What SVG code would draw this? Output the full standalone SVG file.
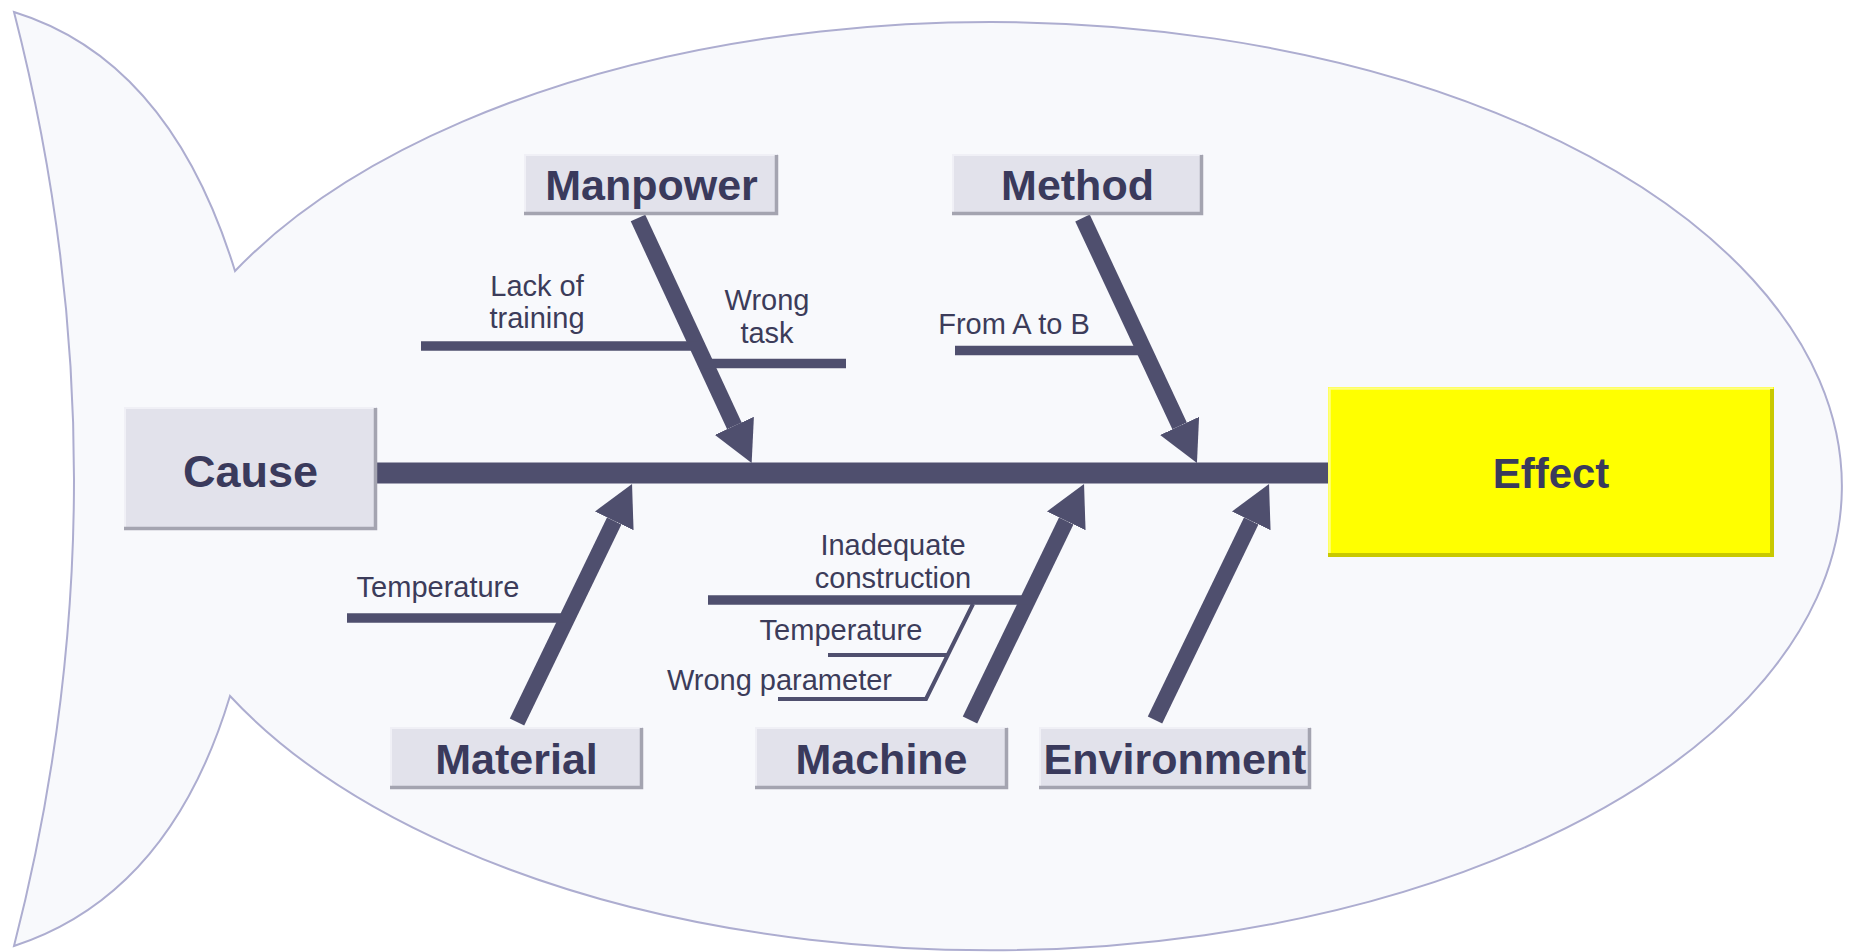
<svg xmlns="http://www.w3.org/2000/svg" width="1852" height="952" viewBox="0 0 1852 952">
<defs>
<style>
.fish{fill:#f8f9fc;stroke:#adadd0;stroke-width:2}
.box{fill:#e2e2eb}
.hi{fill:none;stroke:#f0f0f6;stroke-width:2}
.sh{fill:none;stroke:#a4a4b0;stroke-width:3.5}
.lbl{font-family:"Liberation Sans",Arial,sans-serif;font-weight:bold;fill:#3a3a5c;text-anchor:middle}
.sub{font-family:"Liberation Sans",Arial,sans-serif;font-size:29px;fill:#3c3c5a;text-anchor:middle}
.bone{stroke:#4f4f6e;stroke-width:16;fill:none}
.twig{stroke:#4f4f6e;stroke-width:9.5;fill:none}
.thin{stroke:#4f4f6e;stroke-width:4;fill:none}
</style>
<marker id="head" markerUnits="userSpaceOnUse" markerWidth="41" markerHeight="43" viewBox="0 0 41 43" refX="0" refY="21.5" orient="auto">
<path d="M0,0 L41,21.5 L0,43 Z" fill="#4f4f6e"/>
</marker>
</defs>
<rect width="1852" height="952" fill="#ffffff"/>
<path class="fish" d="M14,12 Q170,60 235,271 A852,464 0 1 1 230,696 Q170,895 14,946 Q134,479 14,12 Z"/>

<g id="connectors">
<rect x="376" y="462.5" width="953" height="21" fill="#4f4f6e"/>
<line class="bone" x1="638" y1="218" x2="734.4" y2="425.8" marker-end="url(#head)"/>
<line class="bone" x1="1082.5" y1="218" x2="1179.6" y2="425.9" marker-end="url(#head)"/>
<line class="bone" x1="517" y1="722" x2="614.2" y2="520.9" marker-end="url(#head)"/>
<line class="bone" x1="970" y1="720" x2="1066.2" y2="520.9" marker-end="url(#head)"/>
<line class="bone" x1="1155" y1="720" x2="1251.2" y2="520.9" marker-end="url(#head)"/>
<line class="twig" x1="421" y1="346" x2="697" y2="346"/>
<line class="twig" x1="705" y1="363.5" x2="846" y2="363.5"/>
<line class="twig" x1="955" y1="350.5" x2="1146" y2="350.5"/>
<line class="twig" x1="347" y1="618" x2="567" y2="618"/>
<line class="twig" x1="708" y1="600" x2="1028" y2="600"/>
<polyline class="thin" points="973,604 926,699 778,699"/>
<line class="thin" x1="828" y1="655" x2="949" y2="655"/>
</g>

<g id="sub-labels">
<text class="sub" x="537" y="296">Lack of</text>
<text class="sub" x="537" y="328">training</text>
<text class="sub" x="767" y="310">Wrong</text>
<text class="sub" x="767" y="343">task</text>
<text class="sub" x="1014" y="334">From A to B</text>
<text class="sub" x="438" y="597">Temperature</text>
<text class="sub" x="893" y="555">Inadequate</text>
<text class="sub" x="893" y="588">construction</text>
<text class="sub" x="841" y="640">Temperature</text>
<text class="sub" x="892" y="690" style="text-anchor:end">Wrong parameter</text>
</g>

<g id="cause">
<rect class="box" x="124" y="407" width="253" height="123"/>
<polyline class="hi" points="125,529 125,408 376,408"/>
<polyline class="sh" points="375.5,408 375.5,528.5 124,528.5"/>
<text class="lbl" x="250.5" y="487" font-size="45">Cause</text>
</g>

<g id="effect">
<rect x="1328" y="387" width="446" height="170" fill="#ffff00"/>
<polyline fill="none" stroke="#ffff80" stroke-width="2.5" points="1329.5,556 1329.5,388.5 1773,388.5"/>
<polyline fill="none" stroke="#c9c900" stroke-width="4" points="1772,389 1772,555 1328,555"/>
<text class="lbl" x="1551" y="488" font-size="42">Effect</text>
</g>

<g id="manpower">
<rect class="box" x="524" y="154" width="254" height="61"/>
<polyline class="hi" points="525,214 525,155 777,155"/>
<polyline class="sh" points="776.5,155 776.5,213.5 524,213.5"/>
<text class="lbl" x="651.5" y="200" font-size="43">Manpower</text>
</g>

<g id="method">
<rect class="box" x="952" y="154" width="251" height="61"/>
<polyline class="hi" points="953,214 953,155 1202,155"/>
<polyline class="sh" points="1201.5,155 1201.5,213.5 952,213.5"/>
<text class="lbl" x="1077.5" y="200" font-size="43">Method</text>
</g>

<g id="material">
<rect class="box" x="390" y="727" width="253" height="62"/>
<polyline class="hi" points="391,788 391,728 642,728"/>
<polyline class="sh" points="641.5,728 641.5,787.5 390,787.5"/>
<text class="lbl" x="516.5" y="774" font-size="43">Material</text>
</g>

<g id="machine">
<rect class="box" x="755" y="727" width="253" height="62"/>
<polyline class="hi" points="756,788 756,728 1007,728"/>
<polyline class="sh" points="1006.5,728 1006.5,787.5 755,787.5"/>
<text class="lbl" x="881.5" y="774" font-size="43">Machine</text>
</g>

<g id="environment">
<rect class="box" x="1039" y="727" width="272" height="62"/>
<polyline class="hi" points="1040,788 1040,728 1310,728"/>
<polyline class="sh" points="1309.5,728 1309.5,787.5 1039,787.5"/>
<text class="lbl" x="1175" y="774" font-size="43">Environment</text>
</g>
</svg>
